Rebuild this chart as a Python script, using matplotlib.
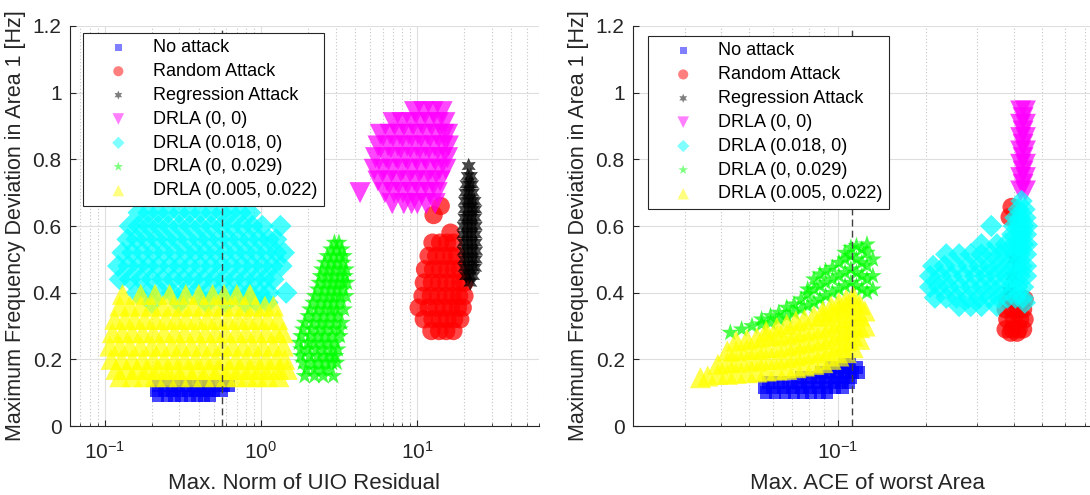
import numpy as np
import matplotlib
matplotlib.use("Agg")
import matplotlib.pyplot as plt
from matplotlib.ticker import LogLocator, NullFormatter

plt.rcParams['font.family'] = ['Liberation Sans', 'DejaVu Sans']

# ---- data: left panel (x = max. norm of UIO residual), rows of (y, [x ...]) ----
no_attack_l = [
    (0.09, [0.22, 0.25, 0.28, 0.31, 0.35, 0.39, 0.43, 0.47]),
    (0.105, [0.215, 0.24, 0.27, 0.30, 0.34, 0.38, 0.42, 0.46, 0.50, 0.56]),
    (0.12, [0.22, 0.25, 0.29, 0.33, 0.37, 0.41, 0.46, 0.52, 0.58, 0.62]),
]
random_l = [
    (0.66, [14.1]),
    (0.633, [12.7]),
    (0.58, [16.3]),
    (0.55, [12.5, 14.0, 15.5, 17.0]),
    (0.51, [11.8, 13.2, 14.8, 16.5, 18.0]),
    (0.47, [11.2, 12.6, 14.0, 15.6, 17.2, 18.7]),
    (0.43, [11.0, 12.4, 13.8, 15.3, 17.0, 18.8, 20.0]),
    (0.39, [10.8, 12.2, 13.6, 15.2, 16.8, 18.5, 20.0]),
    (0.355, [10.2, 11.8, 13.3, 14.8, 16.4, 18.2, 19.5]),
    (0.32, [11.0, 12.5, 14.0, 15.5, 17.2, 18.8]),
    (0.285, [12.3, 13.8, 15.3, 17.0]),
]
regression_l = [
    (0.78, [21.3]),
    (0.75, [21.0, 22.0]),
    (0.725, [20.6, 21.6, 22.4]),
    (0.70, [20.3, 21.4, 22.6]),
    (0.675, [20.2, 21.2, 22.3, 23.2]),
    (0.65, [20.1, 21.3, 22.6, 23.5]),
    (0.625, [20.0, 21.0, 22.2, 23.4]),
    (0.60, [19.8, 21.0, 22.3, 23.6]),
    (0.575, [19.7, 20.9, 22.1, 23.5]),
    (0.55, [19.8, 21.0, 22.3, 23.6]),
    (0.525, [19.9, 21.1, 22.4, 23.7]),
    (0.50, [20.0, 21.2, 22.5, 23.6]),
    (0.475, [20.1, 21.3, 22.6, 23.4]),
    (0.45, [20.5, 21.6, 22.7]),
    (0.43, [21.8]),
]
drla_00_l = [
    (0.943, [9.6, 11.0, 12.6, 14.4]),
    (0.91, [7.0, 8.0, 9.2, 10.5, 12.0, 13.6, 15.0]),
    (0.875, [5.8, 6.7, 7.7, 8.8, 10.1, 11.6, 13.2, 14.8, 15.6]),
    (0.84, [5.6, 6.5, 7.5, 8.6, 9.9, 11.3, 12.9, 14.6, 15.8]),
    (0.805, [5.4, 6.3, 7.3, 8.4, 9.7, 11.1, 12.7, 14.4, 15.6]),
    (0.77, [5.3, 6.1, 7.0, 8.1, 9.3, 10.6, 12.2, 13.9, 15.2]),
    (0.735, [5.6, 6.4, 7.3, 8.4, 9.6, 11.0, 12.5, 14.0]),
    (0.70, [4.3, 6.2, 7.1, 8.1, 9.3, 10.6, 12.0, 13.4]),
    (0.667, [6.9, 8.2, 9.2, 10.0, 11.4, 13.0]),
]
drla_018_l = [
    (0.64, [0.165, 0.19, 0.22, 0.255, 0.30, 0.35, 0.41, 0.48, 0.56, 0.64, 0.74, 0.85]),
    (0.60, [0.145, 0.165, 0.19, 0.22, 0.255, 0.30, 0.35, 0.41, 0.48, 0.56, 0.65, 0.76, 0.88, 1.02, 1.33]),
    (0.56, [0.14, 0.16, 0.185, 0.215, 0.25, 0.29, 0.34, 0.40, 0.46, 0.54, 0.62, 0.72, 0.84, 0.97, 1.12, 1.25]),
    (0.52, [0.13, 0.15, 0.175, 0.205, 0.24, 0.28, 0.33, 0.38, 0.44, 0.51, 0.59, 0.69, 0.80, 0.93, 1.08, 1.25, 1.40]),
    (0.48, [0.122, 0.142, 0.165, 0.19, 0.22, 0.26, 0.30, 0.35, 0.41, 0.48, 0.56, 0.65, 0.76, 0.88, 1.02, 1.18, 1.35]),
    (0.44, [0.125, 0.145, 0.17, 0.20, 0.235, 0.275, 0.32, 0.37, 0.43, 0.50, 0.58, 0.68, 0.79, 0.92, 1.06, 1.2]),
    (0.40, [0.16, 0.19, 0.23, 0.27, 0.32, 0.38, 0.45, 0.53, 0.62, 0.72, 0.84, 0.98, 1.12, 1.45]),
    (0.37, [0.2, 0.3, 0.45, 0.6, 0.8, 0.95, 1.1]),
]
drla_029_l = [
    (0.55, [2.95, 3.15]),
    (0.53, [2.8, 3.05, 3.3]),
    (0.51, [2.65, 2.9, 3.2, 3.4]),
    (0.49, [2.55, 2.8, 3.05, 3.35]),
    (0.47, [2.45, 2.7, 2.95, 3.25, 3.5]),
    (0.45, [2.4, 2.65, 2.9, 3.2, 3.45]),
    (0.43, [2.35, 2.6, 2.85, 3.1, 3.35, 3.55]),
    (0.41, [2.3, 2.55, 2.8, 3.05, 3.35]),
    (0.39, [2.2, 2.45, 2.7, 2.95, 3.2, 3.5]),
    (0.37, [2.15, 2.4, 2.65, 2.9, 3.2]),
    (0.35, [2.05, 2.3, 2.55, 2.8, 3.05, 3.4]),
    (0.33, [2.0, 2.25, 2.5, 2.8, 3.1]),
    (0.31, [1.9, 2.15, 2.4, 2.65, 2.95, 3.3]),
    (0.29, [1.85, 2.1, 2.35, 2.6, 2.9, 3.2]),
    (0.27, [1.8, 2.05, 2.3, 2.55, 2.85, 3.2]),
    (0.25, [1.75, 2.0, 2.2, 2.45, 2.7, 3.0]),
    (0.23, [1.8, 2.0, 2.25, 2.5, 2.8, 3.1]),
    (0.21, [1.8, 2.05, 2.3, 2.55, 2.8, 3.0]),
    (0.19, [1.85, 2.1, 2.35, 2.6, 2.85, 3.05]),
    (0.17, [1.95, 2.2, 2.45, 2.7]),
    (0.15, [1.9, 2.2, 2.5, 2.9]),
]
drla_mix_l = [
    (0.395, [0.13, 0.17, 0.21, 0.26, 0.33, 0.40, 0.49, 0.58, 0.70, 0.85]),
    (0.36, [0.125, 0.145, 0.17, 0.20, 0.235, 0.275, 0.32, 0.37, 0.43, 0.50, 0.58, 0.68, 0.79, 0.92, 1.06, 1.2]),
    (0.32, [0.116, 0.135, 0.155, 0.18, 0.21, 0.245, 0.285, 0.33, 0.385, 0.45, 0.52, 0.61, 0.71, 0.82, 0.95, 1.1, 1.28]),
    (0.28, [0.112, 0.13, 0.15, 0.175, 0.205, 0.24, 0.28, 0.325, 0.38, 0.44, 0.51, 0.59, 0.69, 0.80, 0.93, 1.08, 1.25, 1.38]),
    (0.24, [0.108, 0.125, 0.145, 0.17, 0.20, 0.23, 0.27, 0.31, 0.36, 0.42, 0.49, 0.57, 0.66, 0.77, 0.89, 1.03, 1.2, 1.39]),
    (0.20, [0.11, 0.128, 0.15, 0.175, 0.205, 0.24, 0.28, 0.325, 0.38, 0.44, 0.51, 0.59, 0.69, 0.80, 0.93, 1.08, 1.25, 1.42]),
    (0.17, [0.118, 0.138, 0.16, 0.185, 0.215, 0.25, 0.29, 0.34, 0.39, 0.46, 0.53, 0.62, 0.72, 0.84, 0.97, 1.12, 1.3, 1.47]),
    (0.148, [0.125, 0.15, 0.18, 0.21, 0.25, 0.30, 0.36, 0.43, 0.51, 0.60, 0.70, 0.82, 0.95, 1.1, 1.3]),
]

# ---- data: right panel (x = max. ACE of worst area) ----
no_attack_r = [  # rows (y, [x ...])
    (0.10, [0.057, 0.061, 0.066, 0.071, 0.076, 0.081, 0.087, 0.092]),
    (0.115, [0.056, 0.060, 0.065, 0.070, 0.075, 0.080, 0.086, 0.092, 0.098, 0.104]),
    (0.13, [0.058, 0.063, 0.068, 0.073, 0.079, 0.085, 0.091, 0.097, 0.103, 0.109]),
    (0.145, [0.075, 0.081, 0.087, 0.093, 0.099, 0.105, 0.111]),
    (0.16, [0.088, 0.094, 0.10, 0.106, 0.113, 0.118]),
    (0.175, [0.095, 0.102, 0.109, 0.116]),
    (0.185, [0.105, 0.11]),
]
random_r = [
    (0.657, [0.393]),
    (0.627, [0.387]),
    (0.38, [0.38, 0.40, 0.42, 0.435]),
    (0.35, [0.375, 0.395, 0.415, 0.43]),
    (0.32, [0.38, 0.40, 0.42, 0.435]),
    (0.29, [0.375, 0.395, 0.415, 0.43]),
    (0.28, [0.39, 0.41]),
]
regression_r = [
    (0.405, [0.384]), (0.45, [0.395]), (0.50, [0.40]),
]
drla_00_r = [
    (0.945, [0.422, 0.438]), (0.925, [0.43]), (0.905, [0.422, 0.438]),
    (0.885, [0.43]), (0.865, [0.422, 0.438]), (0.845, [0.43]),
    (0.825, [0.422, 0.438]), (0.805, [0.43]), (0.785, [0.422, 0.438]),
    (0.765, [0.43]), (0.745, [0.422, 0.438]), (0.725, [0.43]),
    (0.705, [0.422, 0.438]),
]
drla_018_r = [
    (0.675, [0.425]),
    (0.65, [0.415, 0.435]),
    (0.625, [0.405, 0.42, 0.438]),
    (0.60, [0.335, 0.40, 0.415, 0.43, 0.443]),
    (0.575, [0.395, 0.41, 0.425, 0.44]),
    (0.545, [0.31, 0.35, 0.375, 0.40, 0.415, 0.43, 0.443]),
    (0.515, [0.235, 0.26, 0.285, 0.31, 0.335, 0.36, 0.385, 0.405, 0.42, 0.44]),
    (0.48, [0.212, 0.232, 0.255, 0.28, 0.305, 0.33, 0.355, 0.38, 0.405, 0.425, 0.44]),
    (0.45, [0.207, 0.225, 0.245, 0.27, 0.295, 0.32, 0.345, 0.375, 0.395, 0.42, 0.44]),
    (0.417, [0.207, 0.222, 0.24, 0.262, 0.285, 0.31, 0.335, 0.36, 0.39, 0.41, 0.43]),
    (0.385, [0.215, 0.235, 0.255, 0.28, 0.305, 0.33, 0.355, 0.38, 0.405, 0.43]),
    (0.36, [0.26, 0.285, 0.31, 0.35]),
    (0.37, [0.436]),
]
drla_029_r = [  # columns (x, [y ...])
    (0.043, [0.28]), (0.047, [0.29]), (0.051, [0.30]), (0.055, [0.305, 0.32]),
    (0.059, [0.31, 0.33]), (0.063, [0.32, 0.34]), (0.067, [0.33, 0.355]),
    (0.071, [0.34, 0.365]), (0.075, [0.35, 0.38]), (0.079, [0.36, 0.395, 0.41]),
    (0.083, [0.37, 0.41, 0.44]), (0.087, [0.38, 0.42, 0.455]),
    (0.091, [0.39, 0.43, 0.465]), (0.096, [0.40, 0.44, 0.475]),
    (0.101, [0.41, 0.45, 0.49]), (0.106, [0.42, 0.46, 0.50, 0.52]),
    (0.111, [0.43, 0.47, 0.51, 0.535]), (0.116, [0.42, 0.46, 0.50, 0.54]),
    (0.121, [0.41, 0.45, 0.49, 0.53]), (0.126, [0.40, 0.44, 0.48, 0.52, 0.545]),
    (0.132, [0.41, 0.45, 0.50]),
]
drla_mix_r = [  # columns (x, [y ...])
    (0.034, [0.145]),
    (0.036, [0.15]),
    (0.039, [0.155, 0.185]),
    (0.042, [0.155, 0.19, 0.225]),
    (0.045, [0.158, 0.19, 0.225, 0.255]),
    (0.049, [0.16, 0.195, 0.23, 0.26]),
    (0.053, [0.162, 0.195, 0.23, 0.265]),
    (0.057, [0.165, 0.20, 0.235, 0.27, 0.285]),
    (0.062, [0.168, 0.20, 0.235, 0.27, 0.295]),
    (0.067, [0.17, 0.205, 0.24, 0.275, 0.305]),
    (0.072, [0.175, 0.21, 0.245, 0.28, 0.315]),
    (0.077, [0.18, 0.215, 0.25, 0.285, 0.32]),
    (0.083, [0.185, 0.22, 0.255, 0.29, 0.33]),
    (0.089, [0.19, 0.225, 0.26, 0.295, 0.33, 0.345]),
    (0.095, [0.20, 0.235, 0.27, 0.305, 0.34, 0.36]),
    (0.101, [0.21, 0.245, 0.28, 0.315, 0.35, 0.37]),
    (0.107, [0.22, 0.255, 0.29, 0.325, 0.36, 0.38]),
    (0.113, [0.235, 0.27, 0.305, 0.34, 0.375, 0.39]),
    (0.119, [0.26, 0.295, 0.33, 0.365]),
    (0.124, [0.30, 0.345]),
]

labels = ['No attack', 'Random Attack', 'Regression Attack', 'DRLA (0, 0)',
          'DRLA (0.018, 0)', 'DRLA (0, 0.029)', 'DRLA (0.005, 0.022)']
threshold_l = 0.565
threshold_r = 0.1117


def from_rows(rows):
    return [x for y, r in rows for x in r], [y for y, r in rows for x in r]


def from_cols(cols):
    return [x for x, c in cols for y in c], [y for x, c in cols for y in c]


colors = ['#0000ff', '#ff0000', '#000000', '#ff00ff', '#00ffff', '#00ff00', '#ffff00']
markers = ['s', 'o', (6, 1, 0), 'v', 'D', '*', '^']
sizes = [80, 175, 140, 230, 130, 180, 230]

left_sets = [from_rows(s) for s in [no_attack_l, random_l, regression_l, drla_00_l,
                                     drla_018_l, drla_029_l, drla_mix_l]]
right_sets = [from_rows(s) for s in [no_attack_r, random_r, regression_r, drla_00_r,
                                      drla_018_r]] + [from_cols(drla_029_r), from_cols(drla_mix_r)]

txt = '#262626'
fig = plt.figure(figsize=(10.9, 4.95), dpi=100)
ax1 = fig.add_axes([70 / 1090, 69 / 495, 469 / 1090, 400 / 495])
ax2 = fig.add_axes([633 / 1090, 69 / 495, 469 / 1090, 400 / 495])

for ax, sets, xlim, thr, xlabel, anchor in [
        (ax1, left_sets, (0.06, 60), threshold_l, 'Max. Norm of UIO Residual', (0.028, 0.983)),
        (ax2, right_sets, (0.02, 0.8), threshold_r, 'Max. ACE of worst Area', (0.032, 0.975))]:
    for (xs, ys), c, m, s, lab in zip(sets, colors, markers, sizes, labels):
        ax.scatter(xs, ys, s=s, marker=m, c=c, alpha=0.72, edgecolors='none', label=lab)
    ax.axvline(thr, color='#404040', ls=(0, (5, 3)), lw=1, zorder=3)

    ax.set_xscale('log')
    ax.set_xlim(*xlim)
    ax.set_ylim(0, 1.2)
    ax.set_yticks([0, 0.2, 0.4, 0.6, 0.8, 1.0, 1.2])
    ax.set_yticklabels(['0', '0.2', '0.4', '0.6', '0.8', '1', '1.2'])
    ax.xaxis.set_major_locator(LogLocator(base=10, numticks=10))
    ax.xaxis.set_minor_locator(LogLocator(base=10, subs=np.arange(2, 10), numticks=20))
    ax.xaxis.set_minor_formatter(NullFormatter())

    ax.set_axisbelow(True)
    ax.grid(True, which='major', color='#dedede', lw=0.8)
    ax.grid(True, which='minor', axis='x', color='#c4c4c4', ls=(0, (1, 2)), lw=0.8)
    for side in ['top', 'right']:
        ax.spines[side].set_visible(False)
    for side in ['left', 'bottom']:
        ax.spines[side].set_color(txt)
        ax.spines[side].set_linewidth(0.8)
    ax.tick_params(which='both', direction='in', color=txt, labelcolor=txt, labelsize=15)
    ax.tick_params(which='major', length=4)
    ax.tick_params(which='minor', length=2.5)
    ax.tick_params(axis='y', pad=6)
    ax.tick_params(axis='x', pad=11)

    ax.set_xlabel(xlabel, fontsize=16, color=txt, labelpad=7)
    ax.set_ylabel('Maximum Frequency Deviation in Area 1 [Hz]', fontsize=15.5, color=txt, labelpad=5)

    leg = ax.legend(loc='upper left', bbox_to_anchor=anchor, borderaxespad=0, fontsize=13,
                    fancybox=False, edgecolor=txt, framealpha=1, markerscale=0.55,
                    handlelength=3.2, handletextpad=0.34, labelspacing=0.38, borderpad=0.35,
                    scatterpoints=1)
    leg.get_frame().set_linewidth(0.8)
    for h in leg.legend_handles:
        h.set_alpha(0.5)
    leg.set_zorder(5)

fig.savefig('out.png', dpi=100)
